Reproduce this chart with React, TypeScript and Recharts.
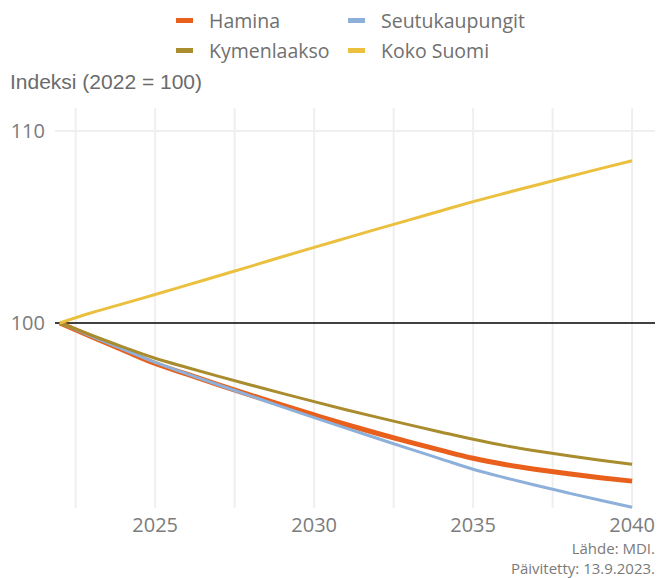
import React from "react";
import {
  LineChart,
  Line,
  XAxis,
  YAxis,
  CartesianGrid,
  ReferenceLine,
} from "recharts";

const years = [
  2022, 2023, 2024, 2025, 2026, 2027, 2028, 2029, 2030, 2031, 2032, 2033, 2034,
  2035, 2036, 2037, 2038, 2039, 2040,
];

const hamina = [
  100, 99.28, 98.58, 97.89, 97.33, 96.78, 96.24, 95.72, 95.21, 94.71, 94.24,
  93.79, 93.36, 92.95, 92.63, 92.37, 92.14, 91.94, 91.76,
];
const seutukaupungit = [
  100, 99.3, 98.62, 97.95, 97.35, 96.77, 96.2, 95.63, 95.07, 94.52, 93.98,
  93.44, 92.91, 92.38, 91.94, 91.53, 91.14, 90.76, 90.4,
];
const kymenlaakso = [
  100, 99.36, 98.74, 98.16, 97.68, 97.22, 96.77, 96.33, 95.9, 95.48, 95.08,
  94.69, 94.31, 93.94, 93.61, 93.33, 93.08, 92.85, 92.64,
];
const kokoSuomi = [
  100, 100.53, 101.01, 101.48, 101.97, 102.46, 102.95, 103.45, 103.94, 104.42,
  104.9, 105.37, 105.85, 106.32, 106.76, 107.19, 107.62, 108.04, 108.45,
];

const xTicks = [2025, 2030, 2035, 2040];
const xGrid = [2022.5, 2025, 2027.5, 2030, 2032.5, 2035, 2037.5, 2040];
const yTicks = [100, 110];

const series = [
  { key: "hamina", name: "Hamina", color: "#E8601C", width: 5 },
  { key: "seutu", name: "Seutukaupungit", color: "#8DB0DA", width: 3 },
  { key: "kymen", name: "Kymenlaakso", color: "#A88C2E", width: 3 },
  { key: "koko", name: "Koko Suomi", color: "#EBC03F", width: 3 },
];

const data = years.map((year, i) => ({
  year,
  hamina: hamina[i],
  seutu: seutukaupungit[i],
  kymen: kymenlaakso[i],
  koko: kokoSuomi[i],
}));

const legendRows = [
  ["Hamina", "Seutukaupungit"],
  ["Kymenlaakso", "Koko Suomi"],
];

const captionLines = ["Lähde: MDI.", "Päivitetty: 13.9.2023."];

const tickFont = { fill: "#7C7C7C", fontSize: 20, fontFamily: "Open Sans" };

export default function App() {
  const colorOf = (name: string) => series.find((s) => s.name === name)!.color;

  return (
    <div style={{ position: "absolute", left: 0, top: 0, width: 657, height: 578, background: "#fff" }}>
      {legendRows.map((row, r) =>
        row.map((name, c) => (
          <div
            key={name}
            style={{
              position: "absolute",
              left: c === 0 ? 176 : 348,
              top: 7 + r * 30,
              height: 26,
              display: "flex",
              alignItems: "center",
              fontFamily: "Open Sans",
              fontSize: 19.5,
              color: "#707070",
            }}
          >
            <span style={{ width: 17, height: 5, background: colorOf(name), marginRight: 16 }} />
            {name}
          </div>
        ))
      )}
      <div
        style={{
          position: "absolute",
          left: 10,
          top: 70,
          fontFamily: "Liberation Sans",
          fontSize: 21,
          color: "#6B6B6B",
        }}
      >
        Indeksi (2022 = 100)
      </div>
      <LineChart
        width={657}
        height={578}
        data={data}
        margin={{ top: 108, right: 2, left: 0, bottom: 0 }}
      >
        <CartesianGrid
          stroke="#EFEFEF"
          strokeWidth={2}
          horizontalValues={[110]}
          verticalValues={xGrid}
        />
        <XAxis
          dataKey="year"
          type="number"
          domain={[2021.85, 2040.72]}
          ticks={xTicks}
          axisLine={false}
          tickLine={false}
          height={70}
          tick={tickFont}
          tickMargin={4}
        />
        <YAxis
          type="number"
          domain={[90.36, 111.2]}
          ticks={yTicks}
          axisLine={false}
          tickLine={false}
          width={55}
          tick={tickFont}
          tickMargin={4}
        />
        <ReferenceLine y={100} stroke="#000" strokeWidth={1.5} />
        {series.map((s) => (
          <Line
            key={s.key}
            type="monotone"
            dataKey={s.key}
            name={s.name}
            stroke={s.color}
            strokeWidth={s.width}
            dot={false}
            isAnimationActive={false}
          />
        ))}
      </LineChart>
      {captionLines.map((line, i) => (
        <div
          key={line}
          style={{
            position: "absolute",
            right: 2,
            top: 538 + i * 20,
            fontFamily: "Open Sans",
            fontSize: 15,
            lineHeight: "20px",
            color: "#7A7A7A",
            whiteSpace: "nowrap",
          }}
        >
          {line}
        </div>
      ))}
    </div>
  );
}
